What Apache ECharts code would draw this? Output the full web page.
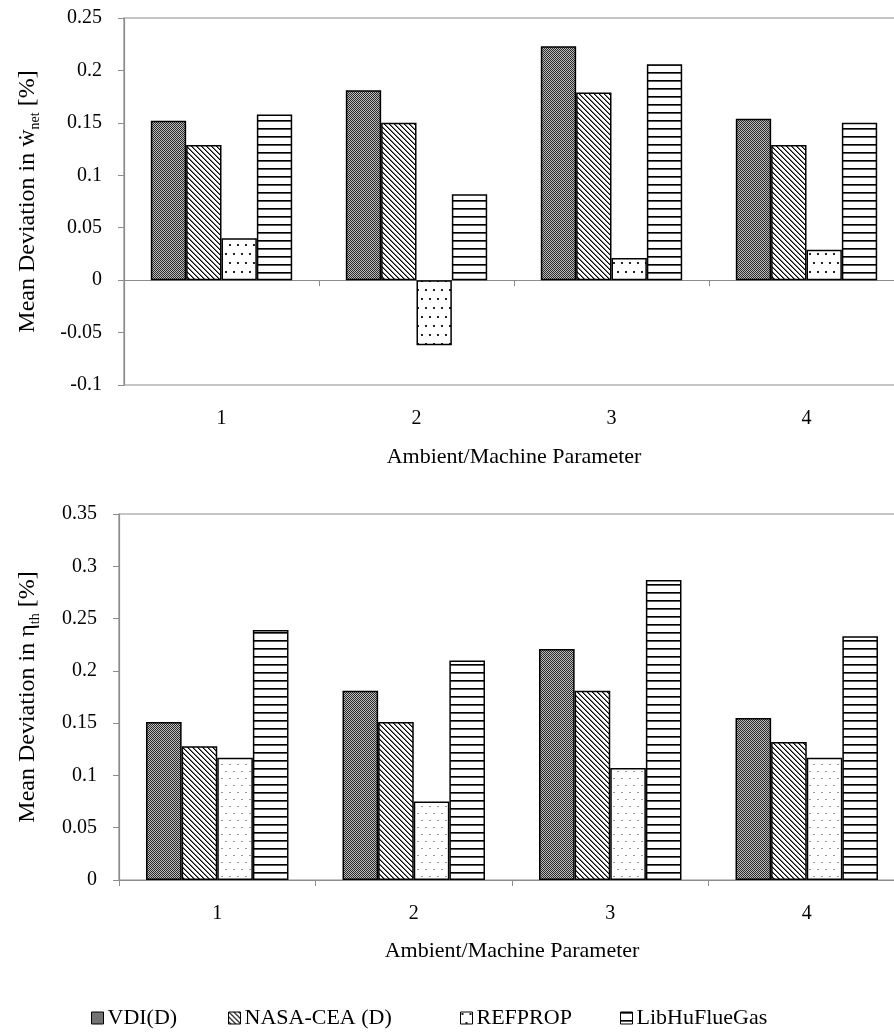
<!DOCTYPE html>
<html><head><meta charset="utf-8">
<script src="https://cdn.jsdelivr.net/npm/echarts@6/dist/echarts.min.js"></script>
<style>html,body{margin:0;padding:0;background:#fff}#c{width:894px;height:1035px}</style>
</head><body><div id="c"></div>
<script>
// ---------------- data ----------------
const categories = ['1', '2', '3', '4'];
const seriesNames = ['VDI(D)', 'NASA-CEA (D)', 'REFPROP', 'LibHuFlueGas'];
// top chart: mean deviation in w_net [%]
const wnetVDI = [0.152, 0.181, 0.223, 0.154];
const wnetNASA = [0.129, 0.150, 0.179, 0.129];
const wnetREFPROP = [0.040, -0.062, 0.021, 0.029];
const wnetLib = [0.158, 0.082, 0.206, 0.150];
// bottom chart: mean deviation in eta_th [%]
const etaVDI = [0.151, 0.181, 0.221, 0.155];
const etaNASA = [0.128, 0.151, 0.181, 0.132];
const etaREFPROP = [0.117, 0.075, 0.107, 0.117];
const etaLib = [0.239, 0.210, 0.287, 0.233];
const xTitle = 'Ambient/Machine Parameter';
const yTitleTop = '{a|Mean Deviation in ẇ}{s|net}{a| [%]}';
const yTitleBottom = '{a|Mean Deviation in η}{s|th}{a| [%]}';

// ---------------- patterns ----------------
function pattern(w, h, fn) {
  const c = document.createElement('canvas');
  c.width = w; c.height = h;
  const g = c.getContext('2d');
  g.fillStyle = '#fff'; g.fillRect(0, 0, w, h);
  for (let y = 0; y < h; y++) for (let x = 0; x < w; x++) {
    const col = fn(x, y);
    if (col) { g.fillStyle = col; g.fillRect(x, y, 1, 1); }
  }
  return { image: c, repeat: 'repeat' };
}
const patVDI = pattern(2, 2, (x, y) => ((x + y) % 2 === 0 ? '#2a2a2a' : '#bcbcbc'));
const patNASA = pattern(5, 5, (x, y) => { const d = ((x - y) % 5 + 5) % 5; return d === 0 ? '#000' : (d === 1 ? '#777' : null); });
const patREFTop = pattern(8, 18, (x, y) => (((x === 1 || x === 2) && (y === 1 || y === 2)) || ((x === 5 || x === 6) && (y === 10 || y === 11)) ? '#222' : null));
const patREFBot = pattern(8, 14, (x, y) => (((x === 1 || x === 2) && y === 1) || ((x === 5 || x === 6) && y === 8) ? '#999' : null));
const patLib = pattern(4, 8, (x, y) => (y === 0 ? '#000' : (y === 1 ? '#555' : null)));

const FONT = '"Liberation Serif", "Times New Roman", serif';
const axisGrey = '#8c8c8c';

function yAxis(gridIndex, min, max, gap, title) {
  return {
    type: 'value', gridIndex, min, max, interval: 0.05,
    axisLine: { show: true, lineStyle: { color: axisGrey, width: 1.2 } },
    axisTick: { show: true, length: 6, lineStyle: { color: axisGrey } },
    splitLine: { show: false },
    axisLabel: { color: '#000', fontFamily: FONT, fontSize: 20, margin: 22 },
    name: title, nameLocation: 'middle', nameRotate: 90, nameGap: gap,
    nameTextStyle: {
      fontFamily: FONT, color: '#000',
      rich: {
        a: { fontFamily: FONT, fontSize: 24, color: '#000', lineHeight: 28, verticalAlign: 'middle' },
        s: { fontFamily: FONT, fontSize: 14, color: '#000', lineHeight: 28, verticalAlign: 'bottom' }
      }
    }
  };
}
// axis line + ticks (at zero)
function xLineAxis(gridIndex) {
  return {
    type: 'category', gridIndex, data: categories, position: 'bottom',
    axisLine: { show: true, onZero: true, lineStyle: { color: axisGrey, width: 1.2 } },
    axisTick: { show: true, length: 6, alignWithLabel: false, lineStyle: { color: axisGrey } },
    axisLabel: { show: false },
    splitLine: { show: false }
  };
}
// labels + title (at bottom of plot)
function xLabelAxis(gridIndex, labelMargin, nameGap) {
  return {
    type: 'category', gridIndex, data: categories, position: 'bottom',
    axisLine: { show: false, onZero: false },
    axisTick: { show: false },
    splitLine: { show: false },
    axisLabel: { color: '#000', fontFamily: FONT, fontSize: 20, margin: labelMargin },
    name: xTitle, nameLocation: 'middle', nameGap,
    nameTextStyle: { fontFamily: FONT, fontSize: 22, color: '#000' }
  };
}
function bar(name, data, color, xi, yi) {
  return {
    type: 'bar', name, data, xAxisIndex: xi, yAxisIndex: yi,
    barGap: '0%', barCategoryGap: '27.5%',
    itemStyle: { color, borderColor: '#000', borderWidth: 1.5 },
    emphasis: { disabled: true }
  };
}
function legend(name, left) {
  return {
    data: [name], left, top: 1007, padding: 0, icon: 'rect', itemWidth: 12, itemHeight: 12,
    itemStyle: { borderColor: '#000', borderWidth: 1 },
    textStyle: { fontFamily: FONT, fontSize: 22, color: '#000', padding: [0, 0, 0, -1] },
    selectedMode: false
  };
}

const chart = echarts.init(document.getElementById('c'), null, { renderer: 'canvas' });
chart.setOption({
  animation: false,
  backgroundColor: '#fff',
  grid: [
    { left: 124, top: 18, width: 780, height: 367, show: true, borderColor: axisGrey, borderWidth: 1.2, containLabel: false, outerBoundsMode: 'none' },
    { left: 119, top: 514, width: 786, height: 366, show: true, borderColor: axisGrey, borderWidth: 1.2, containLabel: false, outerBoundsMode: 'none' }
  ],
  xAxis: [xLineAxis(0), xLabelAxis(0, 24, 61), xLineAxis(1), xLabelAxis(1, 24, 60)],
  yAxis: [yAxis(0, -0.1, 0.25, 82, yTitleTop), yAxis(1, 0, 0.35, 77, yTitleBottom)],
  legend: [legend(seriesNames[0], 91), legend(seriesNames[1], 228), legend(seriesNames[2], 460), legend(seriesNames[3], 620)],
  series: [
    bar(seriesNames[0], wnetVDI, patVDI, 0, 0),
    bar(seriesNames[1], wnetNASA, patNASA, 0, 0),
    bar(seriesNames[2], wnetREFPROP, patREFTop, 0, 0),
    bar(seriesNames[3], wnetLib, patLib, 0, 0),
    bar(seriesNames[0], etaVDI, patVDI, 2, 1),
    bar(seriesNames[1], etaNASA, patNASA, 2, 1),
    bar(seriesNames[2], etaREFPROP, patREFBot, 2, 1),
    bar(seriesNames[3], etaLib, patLib, 2, 1)
  ]
});
</script>
</body></html>
